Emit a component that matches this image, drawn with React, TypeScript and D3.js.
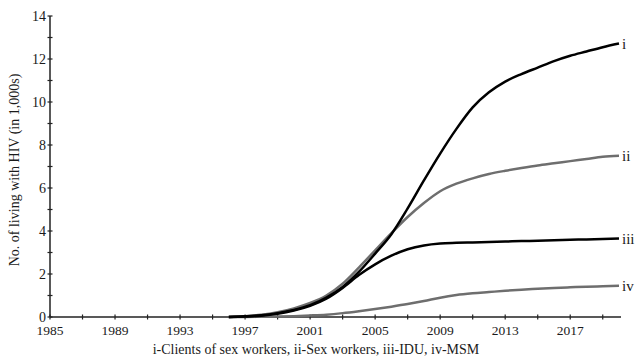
import React from 'react';
import * as d3 from 'd3';

// years the model runs over
const years = d3.range(1996, 2021);

// number living with HIV, in thousands
const clients = [0, 0.03, 0.08, 0.18, 0.33, 0.55, 0.9, 1.4, 2.1, 2.95, 3.85, 5.05, 6.35, 7.6, 8.75, 9.75, 10.45, 10.95, 11.3, 11.6, 11.9, 12.15, 12.35, 12.55, 12.72];
const sexWorkers = [0, 0.04, 0.1, 0.22, 0.4, 0.65, 1.0, 1.55, 2.3, 3.1, 3.9, 4.65, 5.3, 5.85, 6.2, 6.45, 6.65, 6.8, 6.93, 7.05, 7.15, 7.25, 7.35, 7.45, 7.5];
const idu = [0, 0.02, 0.06, 0.15, 0.3, 0.52, 0.85, 1.35, 1.95, 2.45, 2.85, 3.15, 3.33, 3.42, 3.45, 3.47, 3.49, 3.51, 3.53, 3.55, 3.57, 3.59, 3.61, 3.63, 3.65];
const msm = [0, 0, 0.01, 0.02, 0.04, 0.07, 0.11, 0.18, 0.27, 0.37, 0.48, 0.6, 0.74, 0.9, 1.02, 1.1, 1.16, 1.22, 1.27, 1.31, 1.35, 1.38, 1.41, 1.43, 1.45];

const seriesNames = ['i', 'ii', 'iii', 'iv'];
const seriesValues = [clients, sexWorkers, idu, msm];
const seriesColors = ['#000000', '#6e6e6e', '#000000', '#6e6e6e'];

const xLabelYears = [1985, 1989, 1993, 1997, 2001, 2005, 2009, 2013, 2017];
const yLabelValues = [0, 2, 4, 6, 8, 10, 12, 14];

const W = 636;
const H = 360;
const font = '"Liberation Serif", "Times New Roman", serif';
const txt = { fontFamily: font, fill: '#1a1a1a' };

const App = () => {
  const x = d3.scaleLinear().domain([1985, 2020]).range([50, 619]);
  const y = d3.scaleLinear().domain([0, 14]).range([317, 16]);

  const line = d3.line<number>()
    .x((d, i) => x(years[i]))
    .y(d => y(d))
    .curve(d3.curveMonotoneX);

  const xTicks = d3.range(1985, 2020, 2);
  const yTicks = d3.range(0, 15, 1);

  return (
    <svg width={W} height={H} style={{ position: 'absolute', left: 0, top: 0, background: '#fff' }}>
      {/* axes */}
      <line x1={x(1985)} x2={621} y1={y(0)} y2={y(0)} stroke="#222" strokeWidth={1.5} />
      <line x1={x(1985)} x2={x(1985)} y1={y(0)} y2={y(14)} stroke="#222" strokeWidth={1.5} />
      {xTicks.map(t => (
        <line key={'xt' + t} x1={x(t)} x2={x(t)} y1={y(0) - 2.5} y2={y(0) + 2.5} stroke="#222" strokeWidth={1.2} />
      ))}
      {yTicks.map(t => (
        <line key={'yt' + t} x1={x(1985) - 2.5} x2={x(1985) + 2.5} y1={y(t)} y2={y(t)} stroke="#222" strokeWidth={1.2} />
      ))}
      {xLabelYears.map(t => (
        <text key={'xl' + t} x={x(t)} y={335} textAnchor="middle" fontSize={13.5} style={txt}>{t}</text>
      ))}
      {yLabelValues.map(t => (
        <text key={'yl' + t} x={46} y={y(t) + 4.5} textAnchor="end" fontSize={14} style={txt}>{t}</text>
      ))}
      <text transform="translate(19,170) rotate(-90)" textAnchor="middle" fontSize={14} style={txt}>
        No. of living with HIV (in 1,000s)
      </text>
      <text x={316} y={354} textAnchor="middle" fontSize={14} style={txt}>
        i-Clients of sex workers, ii-Sex workers, iii-IDU, iv-MSM
      </text>

      {/* series, grey ones first */}
      {[1, 3, 0, 2].map(k => (
        <path key={'s' + k} d={line(seriesValues[k]) || ''} fill="none" stroke={seriesColors[k]} strokeWidth={2.5} />
      ))}
      {seriesNames.map((n, k) => {
        const v = seriesValues[k];
        return (
          <text key={'n' + n} x={622} y={y(v[v.length - 1]) + 5} fontSize={15} style={txt}>{n}</text>
        );
      })}
    </svg>
  );
};

export default App;
